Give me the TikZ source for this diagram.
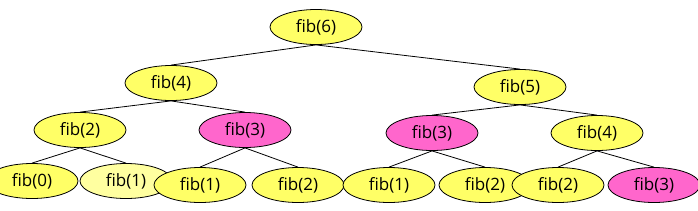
\documentclass[tikz,border=0pt]{standalone}
\usepackage{fontspec}
\setmainfont{Open Sans}
\usetikzlibrary{shapes.geometric,backgrounds}
\definecolor{fibyellow}{RGB}{255,255,102}
\definecolor{fiblight}{RGB}{255,255,160}
\definecolor{fibpink}{RGB}{255,102,204}
\tikzset{
  fibnode/.style={ellipse, draw=black, line width=0.8pt, minimum width=92pt, minimum height=35pt, inner sep=0pt, font=\fontsize{17}{19}\selectfont, text=black},
  yel/.style={fibnode, fill=fibyellow},
  lyel/.style={fibnode, fill=fiblight},
  pnk/.style={fibnode, fill=fibpink},
  edge/.style={draw=black, line width=0.8pt}
}
\begin{document}
\begin{tikzpicture}[x=1pt,y=-1pt]
\path[use as bounding box] (0,0) rectangle (698,210);
\clip (0,0) rectangle (698,210);
\node[yel] (n6) at (316,27) {fib(6)};
\node[yel] (n4) at (171,83) {fib(4)};
\node[yel] (n5) at (520,87) {fib(5)};
\node[yel] (a2) at (80,130) {fib(2)};
\node[pnk] (a3) at (245,130) {fib(3)};
\node[pnk] (b3) at (432,133) {fib(3)};
\node[yel] (b4) at (597,133) {fib(4)};
\node[yel] (c0) at (32,181) {fib(0)};
\node[lyel] (c1) at (126,181) {fib(1)};
\node[yel] (c2) at (200,185) {fib(1)};
\node[yel] (c3) at (298,185) {fib(2)};
\node[yel] (c4) at (389,185) {fib(1)};
\node[yel] (c5) at (485,185) {fib(2)};
\node[yel] (c6) at (558,185) {fib(2)};
\node[pnk] (c7) at (654,185) {fib(3)};
\begin{scope}[on background layer]
\draw[edge] (n6.south) -- (n4.north);
\draw[edge] (n6.south) -- (n5.north);
\draw[edge] (n4.south) -- (a2.north);
\draw[edge] (n4.south) -- (a3.north);
\draw[edge] (n5.south) -- (b3.north);
\draw[edge] (n5.south) -- (b4.north);
\draw[edge] (a2.south) -- (c0.north);
\draw[edge] (a2.south) -- (c1.north);
\draw[edge] (a3.south) -- (c2.north);
\draw[edge] (a3.south) -- (c3.north);
\draw[edge] (b3.south) -- (c4.north);
\draw[edge] (b3.south) -- (c5.north);
\draw[edge] (b4.south) -- (c6.north);
\draw[edge] (b4.south) -- (c7.north);
\end{scope}
\end{tikzpicture}
\end{document}
